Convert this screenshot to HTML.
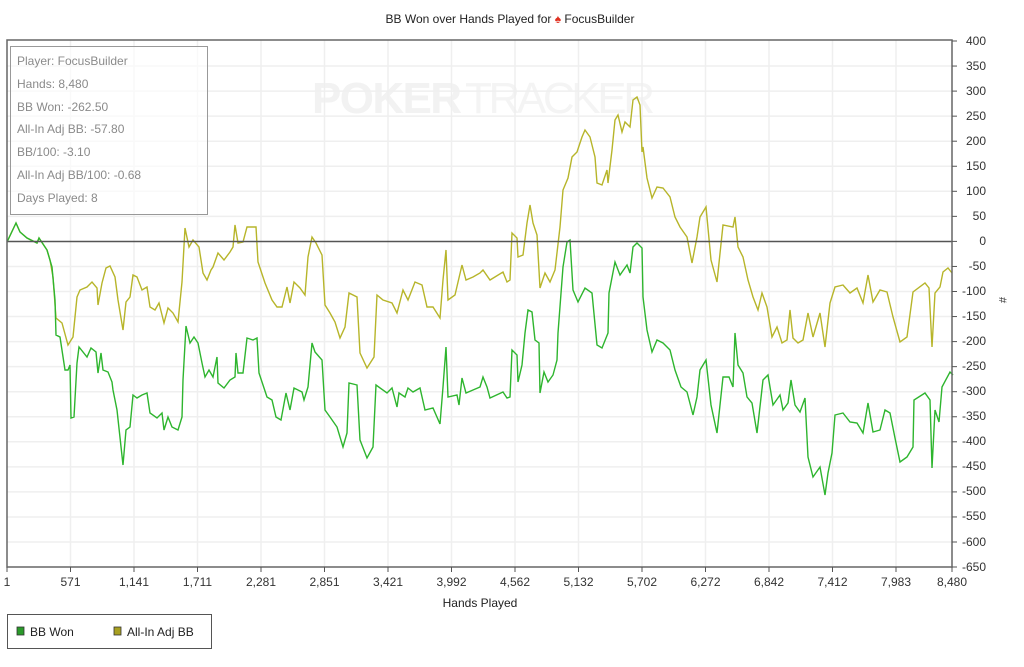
<!DOCTYPE html>
<html><head><meta charset="utf-8"><style>
body{margin:0;background:#fff;}
svg{display:block;font-family:"Liberation Sans",Arial,sans-serif;}
</style></head><body>
<svg width="1024" height="667" viewBox="0 0 1024 667">
<rect width="1024" height="667" fill="#fff"/>
<text x="312" y="113" font-size="44" font-weight="bold" fill="#f2f2f2" textLength="150">POKER</text>
<text x="465" y="113" font-size="44" fill="#f4f4f4" textLength="190">TRACKER</text>
<g stroke="#efefef" stroke-width="1.5">
<line x1="70.5" y1="40" x2="70.5" y2="567"/><line x1="134" y1="40" x2="134" y2="567"/><line x1="197.5" y1="40" x2="197.5" y2="567"/><line x1="261" y1="40" x2="261" y2="567"/><line x1="324.5" y1="40" x2="324.5" y2="567"/><line x1="388" y1="40" x2="388" y2="567"/><line x1="451.5" y1="40" x2="451.5" y2="567"/><line x1="515" y1="40" x2="515" y2="567"/><line x1="578.5" y1="40" x2="578.5" y2="567"/><line x1="642" y1="40" x2="642" y2="567"/><line x1="705.5" y1="40" x2="705.5" y2="567"/><line x1="769" y1="40" x2="769" y2="567"/><line x1="832.5" y1="40" x2="832.5" y2="567"/><line x1="896" y1="40" x2="896" y2="567"/>
<line x1="7" x2="952" y1="66.05" y2="66.05"/><line x1="7" x2="952" y1="91.1" y2="91.1"/><line x1="7" x2="952" y1="116.15" y2="116.15"/><line x1="7" x2="952" y1="141.2" y2="141.2"/><line x1="7" x2="952" y1="166.25" y2="166.25"/><line x1="7" x2="952" y1="191.3" y2="191.3"/><line x1="7" x2="952" y1="216.35" y2="216.35"/><line x1="7" x2="952" y1="266.45" y2="266.45"/><line x1="7" x2="952" y1="291.5" y2="291.5"/><line x1="7" x2="952" y1="316.55" y2="316.55"/><line x1="7" x2="952" y1="341.6" y2="341.6"/><line x1="7" x2="952" y1="366.65" y2="366.65"/><line x1="7" x2="952" y1="391.7" y2="391.7"/><line x1="7" x2="952" y1="416.75" y2="416.75"/><line x1="7" x2="952" y1="441.8" y2="441.8"/><line x1="7" x2="952" y1="466.85" y2="466.85"/><line x1="7" x2="952" y1="491.9" y2="491.9"/><line x1="7" x2="952" y1="516.95" y2="516.95"/><line x1="7" x2="952" y1="542" y2="542"/>
</g>
<polyline fill="none" stroke="#b7b52a" stroke-width="1.4" points="7,242 16,223 20,232 27,238 37,243 39,238 47,250 50,260 53,277 56,318 62,323 68,345 73,337 77,297 80,290 87,287 92,282 97,288 98,305 102,283 106,268 110,266 115,277 118,300 123,330 126,302 130,297 133,275 137,277 142,290 147,287 150,307 155,310 159,303 164,323 168,308 173,313 178,322 182,282 185,228 189,247 193,240 199,247 203,273 207,280 211,270 213,267 218,253 224,260 230,252 233,247 235,225 238,243 243,242 247,227 256,227 258,262 265,283 272,300 277,307 282,307 287,287 290,303 294,282 300,288 305,295 308,257 312,237 316,243 322,255 325,305 330,313 335,322 340,338 345,327 349,293 357,297 360,353 367,368 374,357 377,295 383,300 392,303 397,313 403,290 408,300 415,282 422,285 427,307 433,307 440,318 443,280 446,250 448,300 455,295 462,265 466,280 473,277 480,273 483,270 490,280 503,272 507,282 510,280 512,233 517,238 518,257 523,255 527,223 530,205 533,223 537,235 540,288 545,273 550,282 555,270 560,227 563,190 568,178 572,157 577,152 582,137 585,130 590,137 595,157 597,183 602,185 607,170 608,183 612,150 615,120 618,115 622,132 625,122 630,127 633,100 637,97 640,105 642,152 643,147 647,178 652,198 657,187 663,188 670,197 675,217 680,227 687,237 692,263 697,237 700,217 706,207 711,260 717,282 723,225 733,227 735,217 738,247 743,257 748,280 753,297 758,310 762,293 767,307 772,337 777,327 782,343 787,340 790,310 793,338 798,343 803,340 808,313 813,337 820,313 825,347 830,303 835,287 843,285 850,293 857,288 863,303 868,275 873,302 880,290 887,292 893,317 900,342 907,337 913,292 925,283 929,288 932,347 935,293 940,287 943,272 948,268 952,273"/>
<polyline fill="none" stroke="#2eb52e" stroke-width="1.4" points="7,242 16,223 20,232 27,238 37,243 39,238 47,250 52,267 55,300 56,335 60,337 65,370 68,370 70,365 71,418 74,417 77,363 79,347 87,357 91,348 96,352 98,373 101,353 103,370 108,372 112,382 113,390 117,410 123,465 126,430 130,427 133,395 137,398 142,395 147,393 150,413 157,418 162,413 164,430 168,417 172,427 178,430 182,417 183,380 186,326 190,343 194,337 198,343 202,363 205,377 209,370 213,377 217,357 218,383 224,388 230,380 235,377 236,353 238,373 243,373 247,338 253,340 257,338 259,373 267,397 272,400 276,417 281,420 286,393 290,410 294,388 302,392 304,400 308,387 312,343 315,352 322,360 325,410 330,417 337,427 343,447 347,433 349,383 357,385 360,440 367,458 373,447 376,385 387,393 392,388 397,407 399,393 405,397 408,388 413,392 420,388 425,410 433,408 440,424 443,387 446,347 448,397 457,395 459,405 462,378 466,393 473,390 480,387 483,377 487,387 490,398 503,392 507,398 510,397 512,350 517,355 518,382 522,365 525,333 528,310 532,312 535,340 539,343 540,393 544,372 548,382 553,375 557,360 558,333 563,267 567,242 570,240 573,290 578,302 585,288 592,293 597,345 602,348 608,333 609,293 615,262 620,275 627,265 630,273 633,247 637,243 642,248 643,297 647,330 652,352 657,340 663,343 670,350 675,370 681,387 687,392 693,415 697,397 700,370 706,360 711,405 717,433 723,377 729,377 733,387 735,333 738,365 743,373 747,397 752,403 757,433 763,380 768,375 773,405 780,395 783,410 788,403 791,380 795,405 800,412 805,398 808,457 813,477 820,467 825,495 828,473 832,453 835,415 843,413 850,422 857,423 863,433 868,403 873,432 880,430 885,410 890,413 895,438 900,462 907,457 913,447 914,400 925,393 930,400 932,468 935,410 939,422 942,387 950,372 953,375"/>
<line x1="7" y1="241.5" x2="952" y2="241.5" stroke="#555" stroke-width="1.5"/>
<rect x="7" y="40" width="945" height="527" fill="none" stroke="#666" stroke-width="1.5"/>
<rect x="10.5" y="46.5" width="197" height="168" fill="#fff" fill-opacity="0.6" stroke="#999"/>
<g font-size="12" fill="#8a8a8a">
<text x="17" y="65">Player: FocusBuilder</text>
<text x="17" y="88">Hands: 8,480</text>
<text x="17" y="111">BB Won: -262.50</text>
<text x="17" y="133">All-In Adj BB: -57.80</text>
<text x="17" y="156">BB/100: -3.10</text>
<text x="17" y="179">All-In Adj BB/100: -0.68</text>
<text x="17" y="202">Days Played: 8</text>
</g>
<text x="510" y="23" font-size="12" text-anchor="middle" fill="#222">BB Won over Hands Played for <tspan fill="#e03020">♠</tspan> FocusBuilder</text>
<g stroke="#555">
<line x1="952" x2="957" y1="41" y2="41"/><line x1="952" x2="957" y1="66.05" y2="66.05"/><line x1="952" x2="957" y1="91.1" y2="91.1"/><line x1="952" x2="957" y1="116.15" y2="116.15"/><line x1="952" x2="957" y1="141.2" y2="141.2"/><line x1="952" x2="957" y1="166.25" y2="166.25"/><line x1="952" x2="957" y1="191.3" y2="191.3"/><line x1="952" x2="957" y1="216.35" y2="216.35"/><line x1="952" x2="957" y1="241.4" y2="241.4"/><line x1="952" x2="957" y1="266.45" y2="266.45"/><line x1="952" x2="957" y1="291.5" y2="291.5"/><line x1="952" x2="957" y1="316.55" y2="316.55"/><line x1="952" x2="957" y1="341.6" y2="341.6"/><line x1="952" x2="957" y1="366.65" y2="366.65"/><line x1="952" x2="957" y1="391.7" y2="391.7"/><line x1="952" x2="957" y1="416.75" y2="416.75"/><line x1="952" x2="957" y1="441.8" y2="441.8"/><line x1="952" x2="957" y1="466.85" y2="466.85"/><line x1="952" x2="957" y1="491.9" y2="491.9"/><line x1="952" x2="957" y1="516.95" y2="516.95"/><line x1="952" x2="957" y1="542" y2="542"/><line x1="952" x2="957" y1="567" y2="567"/>
<line x1="7" x2="7" y1="567" y2="572"/><line x1="70.5" x2="70.5" y1="567" y2="572"/><line x1="134" x2="134" y1="567" y2="572"/><line x1="197.5" x2="197.5" y1="567" y2="572"/><line x1="261" x2="261" y1="567" y2="572"/><line x1="324.5" x2="324.5" y1="567" y2="572"/><line x1="388" x2="388" y1="567" y2="572"/><line x1="451.5" x2="451.5" y1="567" y2="572"/><line x1="515" x2="515" y1="567" y2="572"/><line x1="578.5" x2="578.5" y1="567" y2="572"/><line x1="642" x2="642" y1="567" y2="572"/><line x1="705.5" x2="705.5" y1="567" y2="572"/><line x1="769" x2="769" y1="567" y2="572"/><line x1="832.5" x2="832.5" y1="567" y2="572"/><line x1="896" x2="896" y1="567" y2="572"/><line x1="952" x2="952" y1="567" y2="572"/>
</g>
<g font-size="12" fill="#333" text-anchor="end">
<text x="986" y="45">400</text><text x="986" y="70">350</text><text x="986" y="95">300</text><text x="986" y="120">250</text><text x="986" y="145">200</text><text x="986" y="170">150</text><text x="986" y="195">100</text><text x="986" y="220">50</text><text x="986" y="245">0</text><text x="986" y="270">-50</text><text x="986" y="295">-100</text><text x="986" y="320">-150</text><text x="986" y="345">-200</text><text x="986" y="370">-250</text><text x="986" y="395">-300</text><text x="986" y="420">-350</text><text x="986" y="445">-400</text><text x="986" y="470">-450</text><text x="986" y="495">-500</text><text x="986" y="520">-550</text><text x="986" y="546">-600</text><text x="986" y="571">-650</text>
</g>
<g font-size="12" fill="#333" text-anchor="middle">
<text x="7" y="586">1</text><text x="70.5" y="586">571</text><text x="134" y="586">1,141</text><text x="197.5" y="586">1,711</text><text x="261" y="586">2,281</text><text x="324.5" y="586">2,851</text><text x="388" y="586">3,421</text><text x="451.5" y="586">3,992</text><text x="515" y="586">4,562</text><text x="578.5" y="586">5,132</text><text x="642" y="586">5,702</text><text x="705.5" y="586">6,272</text><text x="769" y="586">6,842</text><text x="832.5" y="586">7,412</text><text x="896" y="586">7,983</text><text x="952" y="586">8,480</text>
</g>
<text x="1003" y="304" font-size="11" fill="#333" transform="rotate(90 1003 300)" text-anchor="middle">#</text>
<text x="480" y="607" font-size="12" fill="#222" text-anchor="middle">Hands Played</text>
<rect x="7.5" y="614.5" width="204" height="34" fill="#fff" stroke="#555"/>
<rect x="17" y="627" width="7" height="8" fill="#2a9a2a" stroke="#333" stroke-width="0.8"/>
<text x="30" y="636" font-size="12" fill="#222">BB Won</text>
<rect x="114" y="627" width="7" height="8" fill="#a8a020" stroke="#333" stroke-width="0.8"/>
<text x="127" y="636" font-size="12" fill="#222">All-In Adj BB</text>
</svg>
</body></html>
